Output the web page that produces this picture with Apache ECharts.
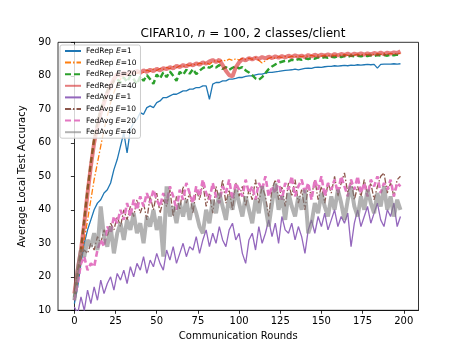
<!DOCTYPE html>
<html>
<head>
<meta charset="utf-8">
<script src="https://cdn.jsdelivr.net/npm/echarts@6/dist/echarts.min.js"></script>
<style>html,body{margin:0;padding:0;background:#fff}#c{width:465px;height:349px}</style>
</head>
<body>
<div id="c"></div>
<script>
// Communication rounds (sampled every 2 rounds)
const rounds = Array.from({length: 100}, (_, i) => i * 2);
const xTicks = [0, 25, 50, 75, 100, 125, 150, 175, 200];
const yTicks = [10, 20, 30, 40, 50, 60, 70, 80, 90];

const fedRepE1 = [12,17,24,30,34,37,40,42,43,45,46,48,52,55,59,63,57,64,66,67,69,68.5,70.5,71,70.5,72,72.5,73.5,73.5,74,74.5,74.5,75,75.5,75.5,76,76,76.5,76.5,77,77,73,77.5,78,78,78.5,78.5,79,79,79.2,79.5,79.5,79.8,80,80,80.3,80.5,80.5,80.8,81,81,81.2,81.3,81.5,81.6,81.7,81.8,82,81.8,82,82.2,82.3,82.2,82.5,82.6,82.5,82.7,82.8,82.8,83,82.9,83,83.1,83,83.2,83.1,83.3,83.2,83.3,83.4,83.3,83.4,82.3,83.4,83.5,83.5,83.5,83.6,83.5,83.6];
const fedRepE10 = [14,19,25,31,37,43,49,54,59,64,68,72,75,77.5,79,80,80.6,80.2,81,80.7,81.3,81,81.7,81.3,82,81.6,82.2,81.9,82.5,82.1,82.8,82.4,83,82.7,83.3,83,83.5,83.2,83.8,83.5,84,83.4,84.2,84.6,84.1,84.8,84.4,85,84.6,85.1,84.7,85.2,84.8,85.3,84.9,85.5,84.6,83.8,84.5,85.2,85.6,85.2,85.7,85.4,85.8,85.5,85.9,85.6,86,85.7,86,85.8,86.1,85.8,86.2,85.9,86.2,86,86.3,86,86.3,86.1,86.4,86.1,86.4,86.2,86.5,86.2,86.5,86.3,86.6,86.3,86.6,86.4,86.7,86.4,86.7,86.5,86.7,86.6];
const fedRepE20 = [14,21,28,37,46,54,61,66,70,73,75.5,77,78.5,79,78,79.5,78.2,80,79,77.5,79.8,78.5,80.2,79,77.6,80.4,79.2,81,79.6,81.3,80,78.5,81.2,80.3,81.8,80.6,82,80.5,81.5,82.3,82.8,82.4,83,82.5,83.2,82,82.6,81.8,82.4,82.8,82.2,82.6,81.6,81,80.2,79.2,78.8,79.6,80.8,82,82.8,83.4,83.9,84.2,84.5,84.3,84.8,84.6,85,84.8,85.2,85,85.3,85.1,85.5,85.3,85.6,85.4,85.7,85.5,85.8,85.6,85.9,85.7,86,85.8,86,85.8,86.1,85.9,86.1,85.9,86.2,86,86.2,86,86.3,86.1,86.3,86.2];
const fedRepE40 = [15,22,28,36,45,53,60,65,69,72,75,77,79,80.5,80,81,80.3,81.2,80.8,81.5,80.9,81.6,81.2,81.8,81.4,82.1,81.6,82.3,82,82.6,82.2,83,82.6,83.2,82.8,83.5,83.1,83.7,83.3,84,83.6,84.3,84.7,84.1,84.8,83.2,81.5,80.2,79.8,82.5,84,85,84.6,85.3,84.9,85.4,85,85.6,85.2,85.7,85.3,85.8,85.4,85.9,85.5,86,85.6,86.1,85.7,86,85.6,86.2,85.8,86.3,85.9,86.3,86,86.4,86,86.5,86.1,86.5,86.2,86.6,86.2,86.6,86.3,86.7,86.3,86.7,86.4,86.8,86.5,86.9,86.5,86.9,86.6,87,86.8,87.3];
const fedAvgE1 = [11,9,14,10,16,12,17,13,19,15,18,20,16,21,19,22,18,23,20,24,22,26,21,25,23,27,24,22,28,25,29,24,27,30,26,29,28,32,27,31,34,29,33,30,35,31,29,34,36,31,33,27,24,31,33,28,35,30,33,37,32,36,30,38,34,33,36,31,35,32,27,34,37,33,38,35,39,34,37,40,35,38,36,39,29,36,40,35,38,41,36,39,42,37,35,40,38,42,35,38];
const fedAvgE10 = [14,20,26,28,27,30,28,32,30,34,32,36,34,38,35,40,37,41,38,43,39,42,37,44,40,45,39,43,41,46,38,44,40,47,42,45,39,46,43,48,41,45,39,47,43,49,42,46,40,48,44,47,41,46,43,49,42,47,44,38,46,49,43,47,41,48,44,49,42,46,40,47,44,49,43,47,42,48,45,50,44,48,51,45,49,43,47,44,49,45,48,43,47,50,51,45,48,44,49,50];
const fedAvgE20 = [13,18,24,26,22,24,23,28,31,29,35,33,38,36,40,37,42,38,43,40,44,41,45,42,46,43,41,45,42,47,44,40,46,43,48,45,42,47,44,49,45,43,48,44,42,47,45,49,43,48,46,44,49,45,47,43,48,46,50,44,47,45,49,43,48,46,50,44,47,49,45,48,43,49,46,50,44,48,46,49,45,50,47,44,49,46,50,45,48,44,49,47,50,45,48,46,49,44,48,47];
const fedAvgE40 = [13,22,28,26,31,29,33,28,41,32,29,35,27,33,36,31,37,34,39,33,36,30,38,35,40,34,38,26,47,38,41,36,42,38,43,37,42,39,35,33,40,36,43,39,45,41,37,44,40,46,42,38,44,40,36,43,39,47,41,35,42,48,40,44,37,45,41,38,44,40,46,33,36,42,39,45,41,38,44,40,46,42,37,43,47,41,38,44,40,46,42,39,45,41,47,40,44,38,43,40];

const seriesDefs = [
  {name: 'FedRep E=1',  data: fedRepE1,  color: '#1f77b4', width: 1.3, type: 'solid', opacity: 1},
  {name: 'FedRep E=10', data: fedRepE10, color: '#ff7f0e', width: 1.3, type: [6, 2, 1.5, 2], opacity: 1},
  {name: 'FedRep E=20', data: fedRepE20, color: '#2ca02c', width: 2.4, type: [6, 3], opacity: 1},
  {name: 'FedRep E=40', data: fedRepE40, color: '#d62728', width: 4, type: 'solid', opacity: 0.6},
  {name: 'FedAvg E=1',  data: fedAvgE1,  color: '#9467bd', width: 1.3, type: 'solid', opacity: 1},
  {name: 'FedAvg E=10', data: fedAvgE10, color: '#8c564b', width: 1.3, type: [6, 2, 1.5, 2], opacity: 1},
  {name: 'FedAvg E=20', data: fedAvgE20, color: '#e377c2', width: 2.6, type: [6, 3], opacity: 1},
  {name: 'FedAvg E=40', data: fedAvgE40, color: '#7f7f7f', width: 4, type: 'solid', opacity: 0.6}
];

const FONT = 'DejaVu Sans';
const chart = echarts.init(document.getElementById('c'), null, {renderer: 'canvas'});
chart.setOption({
  animation: false,
  backgroundColor: '#fff',
  title: {
    text: 'CIFAR10, {i|n} = 100, 2 classes/client',
    left: 238, top: 23, textAlign: 'center',
    textStyle: {fontFamily: FONT, fontSize: 12, fontWeight: 'normal', color: '#000',
      rich: {i: {fontFamily: FONT, fontSize: 12, fontStyle: 'italic', color: '#000'}}}
  },
  legend: {
    orient: 'vertical', left: 60, top: 45,
    itemWidth: 16, itemHeight: 8, itemGap: 2.6,
    padding: [1.5, 4, 1.5, 4],
    backgroundColor: 'rgba(255,255,255,0.8)', borderColor: '#cccccc', borderWidth: 1, borderRadius: 2,
    itemStyle: {opacity: 0, borderWidth: 0},
    data: seriesDefs.map(s => s.name),
    formatter: name => { const p = name.split(' E='); return '{n|' + p[0] + ' }{i|E}{n|=' + p[1] + '}'; },
    textStyle: {fontFamily: FONT, fontSize: 7.5, color: '#000', lineHeight: 9,
      rich: {n: {fontFamily: FONT, fontSize: 7.5, color: '#000'}, i: {fontFamily: FONT, fontSize: 7.5, fontStyle: 'italic', color: '#000'}}}
  },
  grid: {left: 58, right: 46.5, top: 42.3, bottom: 38.7, show: true, borderColor: '#000', borderWidth: 0.8, backgroundColor: 'transparent'},
  xAxis: {
    type: 'value', min: -9.95, max: 208.95,
    name: 'Communication Rounds', nameLocation: 'middle', nameGap: 19,
    nameTextStyle: {fontFamily: FONT, fontSize: 10, color: '#000'},
    axisLine: {show: true, lineStyle: {color: '#000', width: 0.8}},
    axisTick: {show: true, length: 3.5, lineStyle: {color: '#000', width: 0.8}, customValues: xTicks},
    axisLabel: {fontFamily: FONT, fontSize: 10, color: '#000', margin: 6, customValues: xTicks},
    splitLine: {show: false}
  },
  yAxis: {
    type: 'value', min: 10, max: 90, interval: 10,
    name: 'Average Local Test Accuracy', nameLocation: 'middle', nameGap: 23,
    nameTextStyle: {fontFamily: FONT, fontSize: 10, color: '#000'},
    axisLine: {show: true, lineStyle: {color: '#000', width: 0.8}},
    axisTick: {show: true, length: 3.5, lineStyle: {color: '#000', width: 0.8}},
    axisLabel: {fontFamily: FONT, fontSize: 10, color: '#000', margin: 7},
    splitLine: {show: false}
  },
  series: seriesDefs.map(s => ({
    name: s.name, type: 'line', symbol: 'none', showSymbol: false,
    data: rounds.map((r, i) => [r, s.data[i]]),
    itemStyle: {color: s.color, opacity: s.opacity},
    lineStyle: {color: s.color, width: s.width, type: s.type, opacity: s.opacity},
    emphasis: {disabled: true}
  }))
});
</script>
</body>
</html>
